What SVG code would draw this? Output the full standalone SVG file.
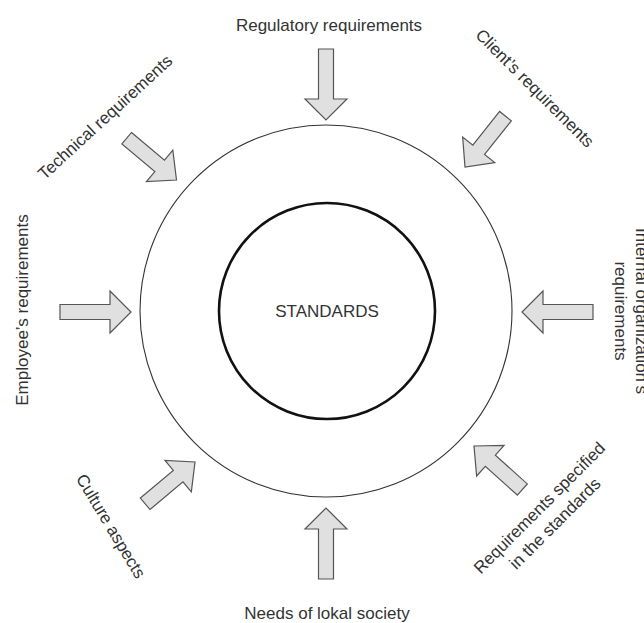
<svg xmlns="http://www.w3.org/2000/svg" width="644" height="623" viewBox="0 0 644 623">
<style>
  text { font-family: "Liberation Sans", Arial, sans-serif; font-size: 17px; fill: #333333; text-anchor: middle; }
  .arrow { fill: #e0e0e0; stroke: #555555; stroke-width: 1.2; stroke-linejoin: miter; }
  .outer { fill: none; stroke: #333333; stroke-width: 1.1; }
  .inner { fill: none; stroke: #111111; stroke-width: 2.6; }
</style>
<defs>
  <path id="arrowL" d="M -71,-7.5 L -21,-7.5 L -21,-21 L 0,0 L -21,21 L -21,7.5 L -71,7.5 Z"/>
  <path id="arrowS" d="M -65,-7.5 L -22,-7.5 L -22,-20.5 L 0,0 L -22,20.5 L -22,7.5 L -65,7.5 Z"/>
</defs>
<rect x="0" y="0" width="644" height="623" fill="#ffffff"/>

<g id="outer-circle">
  <circle class="outer" cx="326" cy="311" r="186"/>
</g>
<g id="standards">
  <circle class="inner" cx="327" cy="311" r="108"/>
  <text x="327" y="317">STANDARDS</text>
</g>

<g id="connectors">
  <use href="#arrowL" class="arrow" transform="translate(326,120) rotate(90)"/>
  <use href="#arrowL" class="arrow" transform="translate(326,508) rotate(-90)"/>
  <use href="#arrowL" class="arrow" transform="translate(131,312)"/>
  <use href="#arrowL" class="arrow" transform="translate(522,312) rotate(180)"/>
  <use href="#arrowS" class="arrow" transform="translate(176.5,180) rotate(40)"/>
  <use href="#arrowS" class="arrow" transform="translate(465,167) rotate(128.5)"/>
  <use href="#arrowS" class="arrow" transform="translate(195,462) rotate(-40)"/>
  <use href="#arrowS" class="arrow" transform="translate(474,446) rotate(-138)"/>
</g>

<g id="regulatory">
  <text x="329" y="31">Regulatory requirements</text>
</g>
<g id="technical">
  <text transform="translate(105,117) rotate(-42.5)" x="0" y="6">Technical requirements</text>
</g>
<g id="client">
  <text transform="translate(535,88) rotate(45)" x="0" y="6">Client’s requirements</text>
</g>
<g id="employee">
  <text transform="translate(22,310) rotate(-90)" x="0" y="6">Employee’s requirements</text>
</g>
<g id="internal">
  <g transform="translate(625.5,311) rotate(90)">
    <text x="0" y="-10.5">Internal organization’s</text>
    <text x="0" y="10.5">requirements</text>
  </g>
</g>
<g id="culture">
  <text transform="translate(111,526) rotate(59)" x="0" y="6">Culture aspects</text>
</g>
<g id="specified">
  <g transform="translate(547,515.5) rotate(-45)">
    <text x="0" y="-5">Requirements specified</text>
    <text x="0" y="17">in the standards</text>
  </g>
</g>
<g id="society">
  <text x="327" y="619">Needs of lokal society</text>
</g>
</svg>
